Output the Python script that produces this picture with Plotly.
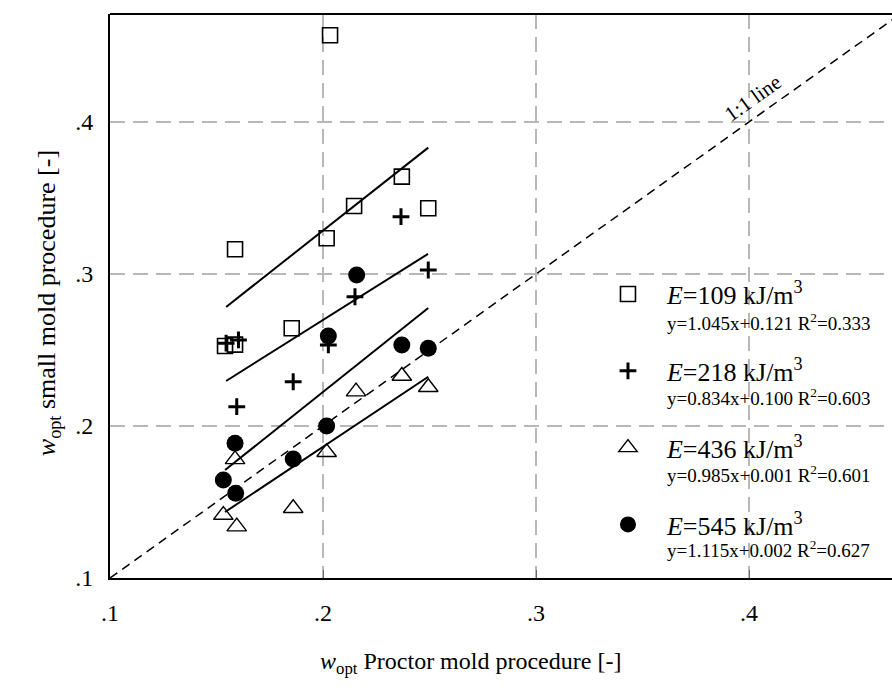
import plotly.graph_objects as go

# ---- data ----
sq_x = [0.2033, 0.2146, 0.2370, 0.2494, 0.2017, 0.1587, 0.1853, 0.1540, 0.1587]
sq_y = [0.4570, 0.3447, 0.3640, 0.3432, 0.3235, 0.3163, 0.2643, 0.2526, 0.2535]

pl_x = [0.2366, 0.2494, 0.2150, 0.2025, 0.1860, 0.1595, 0.1603, 0.1545]
pl_y = [0.3377, 0.3026, 0.2850, 0.2533, 0.2291, 0.2127, 0.2566, 0.2545]

tr_x = [0.1532, 0.1595, 0.1587, 0.1860, 0.2017, 0.2155, 0.2370, 0.2494]
tr_y = [0.1414, 0.1338, 0.1780, 0.1459, 0.1827, 0.2226, 0.2329, 0.2255]

ci_x = [0.2025, 0.2370, 0.2494, 0.1587, 0.1532, 0.1590, 0.1860, 0.2017, 0.2158]
ci_y = [0.2592, 0.2533, 0.2511, 0.1886, 0.1645, 0.1557, 0.1783, 0.2000, 0.2993]

# fitted lines as drawn (start / end points): squares, plus, triangles, circles
fit_x = [[0.1545, 0.2494], [0.1545, 0.2493], [0.1540, 0.2494], [0.1540, 0.2494]]
fit_y = [[0.2783, 0.3831], [0.2296, 0.3132], [0.1434, 0.2324], [0.1710, 0.2776]]

one_to_one = [0.1, 0.48]

energies = ["109", "218", "436", "545"]
equations = ["y=1.045x+0.121 R<sup>2</sup>=0.333",
             "y=0.834x+0.100 R<sup>2</sup>=0.603",
             "y=0.985x+0.001 R<sup>2</sup>=0.601",
             "y=1.115x+0.002 R<sup>2</sup>=0.627"]

tick_vals = [0.1, 0.2, 0.3, 0.4]
tick_text = [".1", ".2", ".3", ".4"]

FONT = "Liberation Serif"

fig = go.Figure()

# 1:1 line
fig.add_trace(go.Scatter(x=one_to_one, y=one_to_one, mode="lines",
                         line=dict(color="black", width=1.5, dash="9px,6px"),
                         showlegend=False, hoverinfo="skip"))

# fit lines
for fx, fy in zip(fit_x, fit_y):
    fig.add_trace(go.Scatter(x=fx, y=fy, mode="lines",
                             line=dict(color="black", width=2),
                             showlegend=False, hoverinfo="skip"))

def name(i):
    return f"<i>E</i>={energies[i]} kJ/m<sup>3</sup>"

fig.add_trace(go.Scatter(x=sq_x, y=sq_y, mode="markers", name=name(0), legendgroup="a",
                         marker=dict(symbol="square-open", size=15, color="black",
                                     line=dict(width=1.6, color="black"))))
fig.add_trace(go.Scatter(x=pl_x, y=pl_y, mode="markers", name=name(1), legendgroup="b",
                         marker=dict(symbol="cross-thin", size=12, color="black",
                                     line=dict(width=3, color="black"))))
fig.add_trace(go.Scatter(x=tr_x, y=tr_y, mode="markers", name=name(2), legendgroup="c",
                         marker=dict(symbol="triangle-up-open", size=17, color="black",
                                     line=dict(width=1.4, color="black"))))
fig.add_trace(go.Scatter(x=ci_x, y=ci_y, mode="markers", name=name(3), legendgroup="d",
                         marker=dict(symbol="circle", size=17, color="black")))

axis_common = dict(
    tickvals=tick_vals, ticktext=tick_text,
    showgrid=True, gridcolor="#b8b8b8", gridwidth=2, griddash="15px,8px",
    showline=True, linecolor="black", linewidth=2,
    zeroline=False,
    tickfont=dict(family=FONT, size=24, color="black"),
)

fig.update_layout(
    width=892, height=694,
    margin=dict(l=110, r=0, t=14, b=116),
    paper_bgcolor="white", plot_bgcolor="white",
    xaxis=dict(range=[0.1, 0.4671], ticks="inside", ticklen=8, tickcolor="#666",
               ticklabelstandoff=12, **axis_common),
    yaxis=dict(range=[0.1, 0.471], ticks="", ticklabelstandoff=10, **axis_common),
    showlegend=True,
    legend=dict(x=0.6125, y=0.545, xanchor="left", yanchor="top",
                valign="middle", tracegroupgap=40, itemwidth=68,
                bgcolor="rgba(0,0,0,0)",
                font=dict(family=FONT, size=26, color="black")),
    font=dict(family=FONT, color="black"),
)

# top border
fig.add_shape(type="line", xref="paper", yref="paper", x0=0, x1=1, y0=1, y1=1,
              line=dict(color="black", width=2))

# regression equations under each legend entry
eq_y = [0.454, 0.321, 0.184, 0.051]
for txt, yy in zip(equations, eq_y):
    fig.add_annotation(xref="paper", yref="paper", x=0.7097, y=yy, text=txt,
                       showarrow=False, xanchor="left", yanchor="middle",
                       font=dict(family=FONT, size=19, color="black"))

# axis titles
fig.add_annotation(xref="paper", yref="paper", x=0.4616, y=-0.15,
                   text="<i>w</i><sub>opt</sub> Proctor mold procedure [-]",
                   showarrow=False, xanchor="center", yanchor="middle",
                   font=dict(family=FONT, size=24, color="black"))
fig.add_annotation(xref="paper", yref="paper", x=-0.079, y=0.4876,
                   text="<i>w</i><sub>opt</sub> small mold procedure [-]",
                   textangle=-90, showarrow=False, xanchor="center", yanchor="middle",
                   font=dict(family=FONT, size=26, color="black"))

# 1:1 label
fig.add_annotation(x=0.4019, y=0.4158, text="1:1 line", textangle=-35.5,
                   showarrow=False, font=dict(family=FONT, size=21, color="black"))

fig.write_html("out.html")
